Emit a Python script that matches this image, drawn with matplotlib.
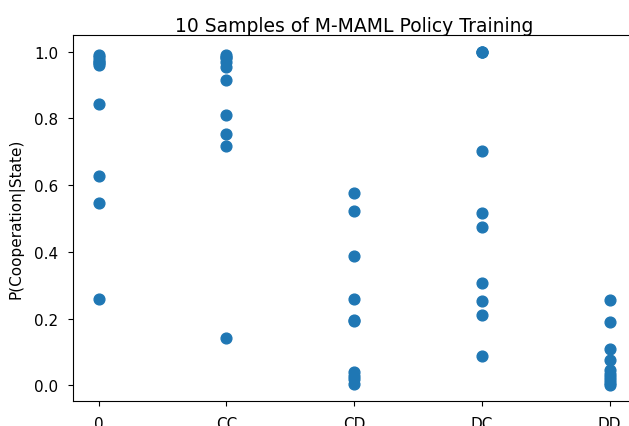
import matplotlib
matplotlib.use('Agg')
import matplotlib.pyplot as plt

# States and sampled cooperation probabilities (10 samples each)
states = ['0', 'CC', 'CD', 'DC', 'DD']
p_0 = [0.99, 0.985, 0.975, 0.97, 0.965, 0.96, 0.843, 0.628, 0.547, 0.258]
p_cc = [0.99, 0.985, 0.98, 0.97, 0.955, 0.915, 0.81, 0.752, 0.718, 0.142]
p_cd = [0.577, 0.522, 0.388, 0.258, 0.195, 0.192, 0.040, 0.028, 0.018, 0.005]
p_dc = [1.0, 0.999, 0.998, 0.702, 0.517, 0.475, 0.308, 0.252, 0.21, 0.088]
p_dd = [0.255, 0.19, 0.11, 0.075, 0.045, 0.035, 0.025, 0.015, 0.008, 0.002]

samples = [p_0, p_cc, p_cd, p_dc, p_dd]

fig = plt.figure(figsize=(6.29, 4.27), dpi=100)
ax = fig.add_axes([0.116, 0.0578, 0.894, 0.858])

for state, vals in zip(states, samples):
    ax.scatter([state] * len(vals), vals, color='#1f77b4', s=60)

ax.set_title('10 Samples of M-MAML Policy Training', fontsize=13.5, pad=2.5)
ax.set_ylabel('P(Cooperation|State)', fontsize=11, labelpad=7)
ax.tick_params(labelsize=11, pad=7)

plt.savefig('out.png', dpi=100)
